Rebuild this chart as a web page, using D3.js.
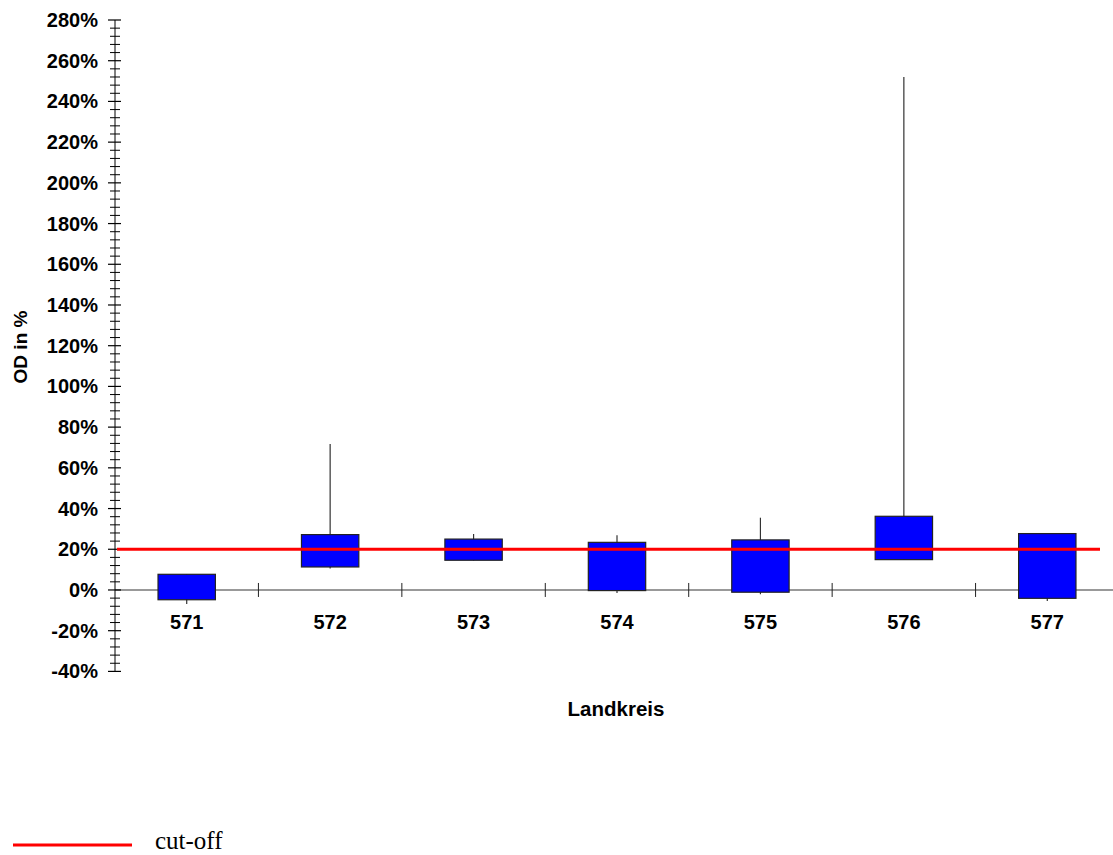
<!DOCTYPE html>
<html>
<head>
<meta charset="utf-8">
<script src="https://cdn.jsdelivr.net/npm/d3@7"></script>
<style>
  html, body { margin: 0; padding: 0; background: #fff; }
  svg { display: block; }
  .lbl { font-family: Arial, "Liberation Sans", sans-serif; font-weight: bold; fill: #000; }
</style>
</head>
<body>
<svg id="chart" width="1113" height="855"></svg>
<script>
// Landkreis categories and box/whisker statistics (OD in %)
const categories   = ["571", "572", "573", "574", "575", "576", "577"];
const boxLow       = [-4.8, 11.3, 14.6, -0.3, -1.1, 14.9, -4.1];
const boxHigh      = [7.7, 27.2, 25.0, 23.4, 24.6, 36.2, 27.7];
const whiskerLow   = [-6.9, 10.5, 14.5, -1.5, -2.1, 14.8, -5.4];
const whiskerHigh  = [7.7, 71.7, 27.5, 26.9, 35.5, 252.0, 27.7];
const cutoff       = 20;
const yTickValues  = [-40, -20, 0, 20, 40, 60, 80, 100, 120, 140, 160, 180, 200, 220, 240, 260, 280];

const svg = d3.select("#chart");

const y = d3.scaleLinear().domain([-40, 280]).range([671.4, 20]);
const x = d3.scaleBand().domain(categories).range([115, 1119]).paddingInner(0).paddingOuter(0);
const axisX = 115;

// Category boundary ticks and baseline
const gx = svg.append("g");
gx.append("line")
  .attr("x1", axisX).attr("x2", 1113)
  .attr("y1", y(0)).attr("y2", y(0))
  .attr("stroke", "#777").attr("stroke-width", 1.5);
gx.selectAll("line.sep")
  .data(categories.slice(1))
  .join("line")
  .attr("class", "sep")
  .attr("x1", d => x(d)).attr("x2", d => x(d))
  .attr("y1", y(0) - 7).attr("y2", y(0) + 7)
  .attr("stroke", "#222").attr("stroke-width", 1);
gx.selectAll("text")
  .data(categories)
  .join("text")
  .attr("class", "lbl")
  .attr("x", d => x(d) + x.bandwidth() / 2)
  .attr("y", y(0) + 39)
  .attr("text-anchor", "middle")
  .attr("font-size", 20)
  .text(d => d);

// Y axis with major and minor ticks
const gy = svg.append("g");
gy.append("line")
  .attr("x1", axisX).attr("x2", axisX)
  .attr("y1", y(280)).attr("y2", y(-40))
  .attr("stroke", "#000").attr("stroke-width", 1);
const minor = d3.range(-40, 280.1, 4).filter(v => v % 20 !== 0);
gy.selectAll("line.minor")
  .data(minor)
  .join("line")
  .attr("class", "minor")
  .attr("x1", axisX - 5).attr("x2", axisX + 5)
  .attr("y1", d => y(d)).attr("y2", d => y(d))
  .attr("stroke", "#000").attr("stroke-width", 1);
gy.selectAll("line.major")
  .data(yTickValues)
  .join("line")
  .attr("class", "major")
  .attr("x1", axisX - 7).attr("x2", axisX + 6)
  .attr("y1", d => y(d)).attr("y2", d => y(d))
  .attr("stroke", "#000").attr("stroke-width", 1.2);
gy.selectAll("text")
  .data(yTickValues)
  .join("text")
  .attr("class", "lbl")
  .attr("x", 98)
  .attr("y", d => y(d) + 7)
  .attr("text-anchor", "end")
  .attr("font-size", 20)
  .text(d => d + "%");

// Boxes and whiskers
const boxW = x.bandwidth() * 0.4;
const items = categories.map((c, i) => ({
  c, lo: boxLow[i], hi: boxHigh[i], wlo: whiskerLow[i], whi: whiskerHigh[i]
}));
const gb = svg.append("g");
gb.selectAll("line.wu")
  .data(items)
  .join("line")
  .attr("x1", d => x(d.c) + x.bandwidth() / 2).attr("x2", d => x(d.c) + x.bandwidth() / 2)
  .attr("y1", d => y(d.whi)).attr("y2", d => y(d.wlo))
  .attr("stroke", "#333").attr("stroke-width", 1.2);
gb.selectAll("rect")
  .data(items)
  .join("rect")
  .attr("x", d => x(d.c) + x.bandwidth() / 2 - boxW / 2)
  .attr("width", boxW)
  .attr("y", d => y(d.hi))
  .attr("height", d => y(d.lo) - y(d.hi))
  .attr("fill", "#0000ff")
  .attr("stroke", "#222").attr("stroke-width", 1.2);

// Cut-off reference line
svg.append("line")
  .attr("x1", 117).attr("x2", 1100)
  .attr("y1", y(cutoff)).attr("y2", y(cutoff))
  .attr("stroke", "#ff0000").attr("stroke-width", 3);

// Axis titles
svg.append("text")
  .attr("class", "lbl")
  .attr("transform", "translate(27,347) rotate(-90)")
  .attr("text-anchor", "middle")
  .attr("font-size", 19)
  .text("OD in %");
svg.append("text")
  .attr("class", "lbl")
  .attr("x", 616).attr("y", 716)
  .attr("text-anchor", "middle")
  .attr("font-size", 20.5)
  .text("Landkreis");

// Legend
svg.append("line")
  .attr("x1", 13).attr("x2", 132)
  .attr("y1", 845).attr("y2", 845)
  .attr("stroke", "#ff0000").attr("stroke-width", 3);
svg.append("text")
  .attr("x", 155).attr("y", 849)
  .attr("font-family", "'Liberation Serif', 'Times New Roman', serif")
  .attr("font-size", 25)
  .attr("fill", "#000")
  .text("cut-off");
</script>
</body>
</html>
